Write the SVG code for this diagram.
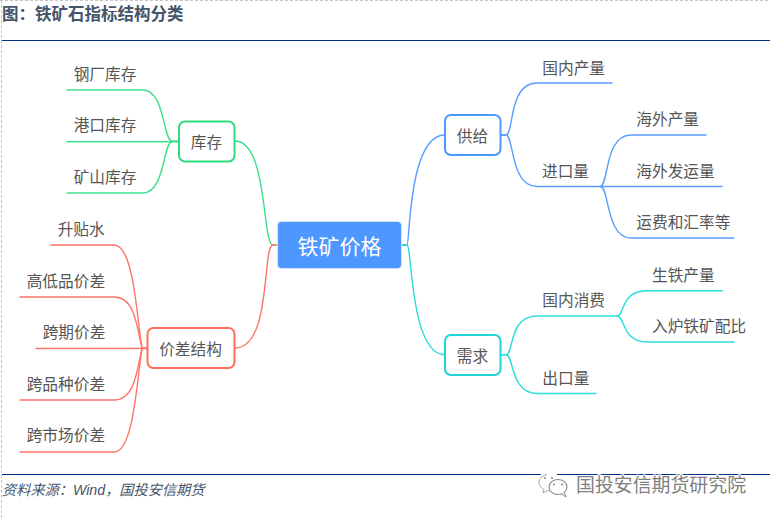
<svg xmlns="http://www.w3.org/2000/svg" width="770" height="519" viewBox="0 0 770 519">
<style>
text{font-family:"Noto Sans CJK SC","Noto Sans",sans-serif}
.l{font-size:15.7px;fill:#555}
.m{font-size:15.7px;fill:#555;text-anchor:middle}
.c{fill:none;stroke-width:1.4;stroke-linecap:round}
.g{stroke:#3fe08c}.r{stroke:#ff7468}.b{stroke:#5b9dff}.t{stroke:#2adcdc}
.n{fill:#fff;stroke-width:2}
</style>
<rect width="770" height="519" fill="#fff"/>
<path d="M1.500 0V519M0 .5H770" fill="none" stroke="#c4c4c4" stroke-dasharray="3 2"/>
<path d="M2 40.500H770M2 474.500H770" fill="none" stroke="#003087" stroke-width="1"/>
<text x="2" y="20" font-size="16.500" font-weight="700" fill="#44546a">图：铁矿石指标结构分类</text>
<text x="2" y="495" font-size="14.200" font-style="italic" fill="#44546a" style="font-family:'Liberation Sans','Noto Sans CJK SC',sans-serif">资料来源：Wind，国投安信期货</text>
<g id="connectors">
<path class="c g" d="M277 245H273C262 245 268 141 235 141"/>
<path class="c g" d="M67 90H143C165 90 163 141 172 141H178"/>
<path class="c g" d="M67 141.700H178"/>
<path class="c g" d="M67 193H143C165 193 163 142 172 142"/>
<path class="c r" d="M277 245H273C262 245 272 348 235 348"/>
<path class="c r" d="M51 245H114C134 245 137 320 142 348H147"/>
<path class="c r" d="M20 297H114C136 297 137 330 142 348"/>
<path class="c r" d="M36 348.500H147"/>
<path class="c r" d="M20 400H114C136 400 137 367 142 349"/>
<path class="c r" d="M20 452H114C134 452 137 377 142 349"/>
<path class="c b" d="M402 245H407C410 245 408 135 445 135"/>
<path class="c b" d="M501 135H506C514 135 508 83 537 83H612"/>
<path class="c b" d="M501 135H506C514 135 510 186.500 537 186.500H600"/>
<path class="c b" d="M600 186.500C609 186.500 604 135 631 135H706"/>
<path class="c b" d="M600 186.500H722"/>
<path class="c b" d="M601 187C609 187 606 238 631 238H734"/>
<path class="c t" d="M402 245H407C412 245 410 354.700 445 354.700"/>
<path class="c t" d="M501 354.700H506C514 354.700 508 316 537 316H617"/>
<path class="c t" d="M501 354.700H506C514 354.700 510 393.500 537 393.500H596"/>
<path class="c t" d="M617 316C625 316 620 290.700 647 290.700H722"/>
<path class="c t" d="M617 316C625 316 622 342 647 342H734"/>
</g>
<g id="root"><rect x="277.500" y="221.500" width="124" height="47" rx="4" fill="#4d97ff" stroke="#cfe1ff"/><text x="339.500" y="254" font-size="21" fill="#fff" text-anchor="middle">铁矿价格</text></g>
<g id="n-kucun"><rect class="n" x="179" y="121.500" width="55.500" height="40" rx="6" stroke="#2edb7f"/><text class="m" x="206.500" y="148">库存</text></g>
<g id="n-jiacha"><rect class="n" x="147.500" y="328" width="87" height="40" rx="6" stroke="#ff6f61"/><text class="m" x="190.500" y="354.500">价差结构</text></g>
<g id="n-gongji"><rect class="n" x="445" y="115" width="55.500" height="40" rx="6" stroke="#4d97ff"/><text class="m" x="472.500" y="141.500">供给</text></g>
<g id="n-xuqiu"><rect class="n" x="445" y="335" width="55.500" height="40" rx="6" stroke="#1fd6d6"/><text class="m" x="472.500" y="361.500">需求</text></g>
<g id="leaf-inv">
<text class="l" x="73.700" y="80">钢厂库存</text>
<text class="l" x="73.700" y="131">港口库存</text>
<text class="l" x="73.700" y="183">矿山库存</text>
</g>
<g id="leaf-spread">
<text class="l" x="57.700" y="235">升贴水</text>
<text class="l" x="26.700" y="287">高低品价差</text>
<text class="l" x="42.700" y="338">跨期价差</text>
<text class="l" x="26.700" y="390">跨品种价差</text>
<text class="l" x="26.700" y="441">跨市场价差</text>
</g>
<g id="leaf-supply">
<text class="l" x="542.300" y="73.500">国内产量</text>
<text class="l" x="542" y="176.500">进口量</text>
<text class="l" x="636.300" y="124.500">海外产量</text>
<text class="l" x="636.300" y="176.500">海外发运量</text>
<text class="l" x="636.300" y="228">运费和汇率等</text>
</g>
<g id="leaf-demand">
<text class="l" x="542.300" y="306">国内消费</text>
<text class="l" x="542.300" y="383.500">出口量</text>
<text class="l" x="652" y="280.500">生铁产量</text>
<text class="l" x="652" y="332">入炉铁矿配比</text>
</g>
<g id="watermark">
<rect x="541" y="472" width="16" height="4" fill="#fff"/>
<path d="M547 474.500C541 475.500 537.500 480 539.500 485C540.500 487.500 542.500 489 544 489.500L543 493L547.500 490.500L550 491" fill="#fff" stroke="#a8a8a8" stroke-width="1"/>
<ellipse cx="558" cy="487" rx="9" ry="7.500" fill="#fff" stroke="#8a8a8a" stroke-width="1.100"/>
<path d="M561 493.500L566 497L564 492" fill="#fff" stroke="#8a8a8a"/>
<circle cx="545" cy="478" r="1" fill="#8a8a8a"/><circle cx="552" cy="478" r="1" fill="#8a8a8a"/><circle cx="554" cy="484.500" r="1" fill="#8a8a8a"/><circle cx="562" cy="484.500" r="1" fill="#8a8a8a"/>
<text x="576" y="492" font-size="18.900" fill="#7f7f7f" stroke="#fff" stroke-width="2" paint-order="stroke">国投安信期货研究院</text>
</g>
</svg>
